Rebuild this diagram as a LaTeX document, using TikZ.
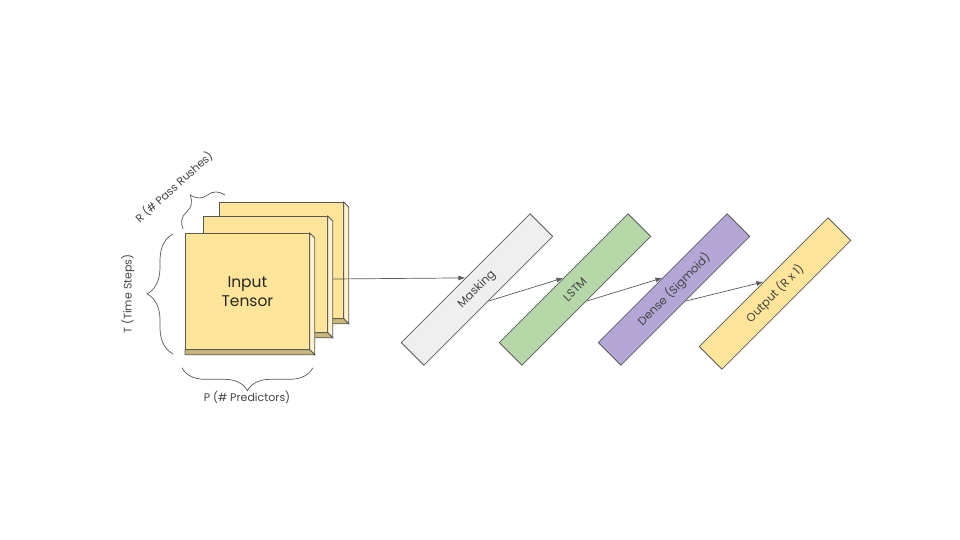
\documentclass[tikz,border=0pt]{standalone}
\usepackage{fontspec}
\setmainfont{Poppins}
\usetikzlibrary{arrows.meta,decorations.pathreplacing}
\definecolor{tensoryellow}{HTML}{FFE599}
\definecolor{tensordark}{HTML}{CCB77A}
\definecolor{tensorlight}{HTML}{FFF2CC}
\definecolor{maskgray}{HTML}{EFEFEF}
\definecolor{lstmgreen}{HTML}{B6D7A8}
\definecolor{densepurple}{HTML}{B4A7D6}
\definecolor{edgegray}{HTML}{595959}
\definecolor{textgray}{HTML}{434343}

\begin{document}
\begin{tikzpicture}[x=1pt,y=1pt,line width=0.8pt,
	face/.style={rectangle,draw=edgegray,fill=tensoryellow,anchor=north west,
		minimum width=124pt,minimum height=116pt,inner sep=0pt},
	layer/.style={rectangle,draw=edgegray,minimum width=182pt,minimum height=32pt,
		rotate=45,text=textgray,font=\fontsize{11.5}{13}\selectfont},
	lbl/.style={text=textgray,font=\fontsize{11}{13}\selectfont,inner sep=0pt},
	bracket/.style={draw=edgegray,line width=0.7pt,decorate,decoration={brace,amplitude=#1}},
	flow/.style={draw=edgegray,line width=0.7pt,-{Latex[length=7pt,width=5pt]}}]
	\useasboundingbox (0,0) rectangle (960,-540);
	% three stacked slices of the tensor, back to front
	\foreach \n/\x/\y in {back/219/202,mid/203/216,front/185/233} {
		\node (\n) at (\x,-\y) [face] {};
		\fill [tensorlight,draw=edgegray] (\n.north east) -- ++(5,-5) -- ([shift={(5,-5)}]\n.south east) -- (\n.south east) -- cycle;
		\fill [tensordark,draw=edgegray] (\n.south west) -- (\n.south east) -- ++(5,-5) -- ([yshift=-5pt]\n.south west) -- cycle;
	}
	\node at (front.center) [align=center,text=black!85,font=\fontsize{15.5}{19}\selectfont] {Input\\Tensor};
	% braces and dimension labels
	\draw [bracket=26pt] ([shift={(-12,-4)}]front.south west) -- ([shift={(-12,-1)}]front.north west);
	\node (tlabel) at (128,-294) [lbl,rotate=90] {T (Time Steps)};
	\draw [bracket=23pt] ([shift={(3,-18)}]front.south east) -- ([shift={(-3,-18)}]front.south west);
	\node (plabel) at (247,-397) [lbl] {P (\# Predictors)};
	\draw [bracket=22pt] ([shift={(-2,4)}]front.north west) -- ([shift={(6,7)}]back.north west);
	\node (rlabel) at (174,-187) [lbl,rotate=42] {R (\# Pass Rushes)};
	% network layers
	\node (mask) at (477,-289.5) [layer,fill=maskgray] {Masking};
	\node (lstm) at (575,-289.5) [layer,fill=lstmgreen] {LSTM};
	\node (dense) at (674,-289.5) [layer,fill=densepurple] {Dense (Sigmoid)};
	\node (out) at (775,-293.5) [layer,fill=tensoryellow] {Output (R x 1)};
	\coordinate (tensorout) at (333,-279);
	\draw [flow] (tensorout) -- (mask.north);
	\draw [flow] (mask.south) -- (lstm.north);
	\draw [flow] (lstm.south) -- (dense.north);
	\draw [flow] (dense.south) -- (out.north);
\end{tikzpicture}
\end{document}
